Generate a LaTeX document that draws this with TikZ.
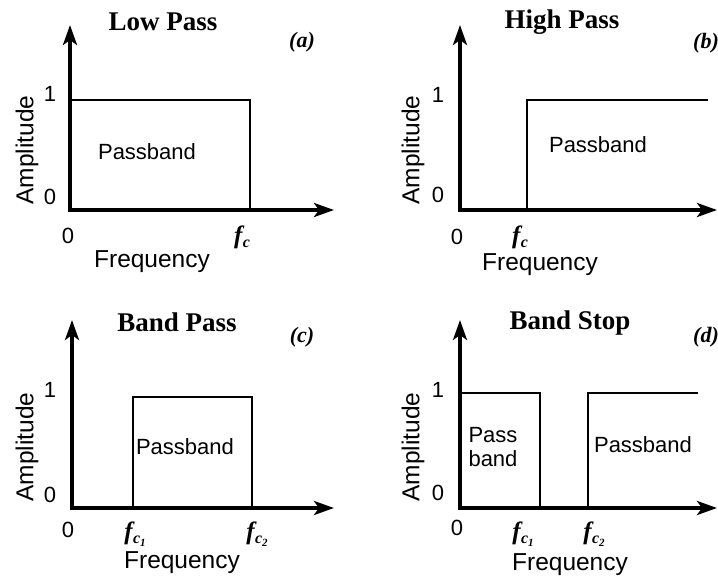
\documentclass[tikz,border=0pt]{standalone}
\usepackage{fontspec}
\setmainfont{Liberation Serif}
\newfontfamily\sanslab{Liberation Sans}
\usetikzlibrary{arrows.meta}
\newcommand{\fcsub}[1]{f\kern0.5pt\raisebox{-4pt}{\fontsize{16}{16}\selectfont c\raisebox{-3pt}{\fontsize{11}{11}\selectfont #1}}}
\newcommand{\fcone}{f\kern0.5pt\raisebox{-4pt}{\fontsize{16}{16}\selectfont c}}
\begin{document}
\begin{tikzpicture}[x=1pt,y=-1pt,
  axis/.style={line width=3.5pt,line join=miter,
    {Stealth[length=20pt,width=14pt,inset=5pt]}-{Stealth[length=20pt,width=14pt,inset=5pt]}},
  resp/.style={line width=1.6pt,line join=miter},
  lab/.style={font=\sanslab\fontsize{24.5}{24.5}\selectfont,inner sep=0pt},
  pb/.style={font=\sanslab\fontsize{22}{24}\selectfont,inner sep=0pt,align=left},
  num/.style={font=\sanslab\fontsize{22}{22}\selectfont,inner sep=0pt},
  fc/.style={font=\fontsize{25}{25}\selectfont\bfseries\itshape,inner sep=0pt},
  ttl/.style={font=\fontsize{27}{27}\selectfont\bfseries,inner sep=0pt},
  tag/.style={font=\fontsize{22}{22}\selectfont\bfseries\itshape,inner sep=0pt},
]
\useasboundingbox[fill=white] (0,0) rectangle (718,578);

% ---------- (a) Low Pass ----------
\coordinate (aO) at (70,210); \coordinate (aY) at (70,25); \coordinate (aX) at (334,210);
\draw[axis] (aY) -- (aO) -- (aX);
\coordinate (aT1) at (70,100); \coordinate (aT2) at (250,100); \coordinate (aB2) at (250,210);
\draw[resp] (aT1) -- (aT2) -- (aB2);
\node[ttl] (aTitle) at (163,22) {Low Pass};
\node[tag] (aTag) at (302,42) {(a)};
\node[num] (a1) at (50,94) {1};
\node[num] (a0) at (50,197) {0};
\node[num] (ax0) at (68,236) {0};
\node[fc] (afc) at (242,237) {\fcone};
\node[lab] (aFreq) at (152,262) {Frequency};
\node[lab,rotate=90] (aAmp) at (27,150) {Amplitude};
\node[pb] (aPb) at (147,152) {Passband};

% ---------- (b) High Pass ----------
\coordinate (bO) at (460,210); \coordinate (bY) at (460,25); \coordinate (bX) at (717,210);
\draw[axis] (bY) -- (bO) -- (bX);
\coordinate (bS0) at (527,210); \coordinate (bS1) at (527,100); \coordinate (bS2) at (708,100);
\draw[resp] (bS0) -- (bS1) -- (bS2);
\node[ttl] (bTitle) at (562,22) {High Pass};
\node[tag] (bTag) at (706,43) {(b)};
\node[num] (b1) at (438,95) {1};
\node[num] (b0) at (438,195) {0};
\node[num] (bx0) at (457,237) {0};
\node[fc] (bfc) at (520,237) {\fcone};
\node[lab] (bFreq) at (540,265) {Frequency};
\node[lab,rotate=90] (bAmp) at (413,150) {Amplitude};
\node[pb] (bPb) at (598,145) {Passband};

% ---------- (c) Band Pass ----------
\coordinate (cO) at (72,508); \coordinate (cY) at (72,320); \coordinate (cX) at (334,508);
\draw[axis] (cY) -- (cO) -- (cX);
\coordinate (cB1) at (133,508); \coordinate (cT1) at (133,397);
\coordinate (cT2) at (252,397); \coordinate (cB2) at (252,508);
\draw[resp] (cB1) -- (cT1) -- (cT2) -- (cB2);
\node[ttl] (cTitle) at (177,322) {Band Pass};
\node[tag] (cTag) at (302,337) {(c)};
\node[num] (c1) at (50,390) {1};
\node[num] (c0) at (50,495) {0};
\node[num] (cx0) at (68,530) {0};
\node[fc] (cfc1) at (135,534) {\fcsub{1}};
\node[fc] (cfc2) at (257,534) {\fcsub{2}};
\node[lab] (cFreq) at (182,563) {Frequency};
\node[lab,rotate=90] (cAmp) at (27,447) {Amplitude};
\node[pb] (cPb) at (185,447) {Passband};

% ---------- (d) Band Stop ----------
\coordinate (dO) at (460,508); \coordinate (dY) at (460,320); \coordinate (dX) at (717,508);
\draw[axis] (dY) -- (dO) -- (dX);
\coordinate (dS1a) at (552,508); \coordinate (dS1b) at (662,508);
\draw[line width=4.5pt] (dS1a) -- (dS1b);
\coordinate (dA1) at (460,393); \coordinate (dA2) at (540,393); \coordinate (dA3) at (540,508);
\draw[resp] (dA1) -- (dA2) -- (dA3);
\coordinate (dB0) at (588,508); \coordinate (dB1) at (588,393); \coordinate (dB2) at (698,393);
\draw[resp] (dB0) -- (dB1) -- (dB2);
\node[ttl] (dTitle) at (570,323) {Band Stop};
\node[tag] (dTag) at (706,337) {(d)};
\node[num] (d1) at (438,390) {1};
\node[num] (d0) at (438,493) {0};
\node[num] (dx0) at (457,528) {0};
\node[fc] (dfc1) at (523,534) {\fcsub{1}};
\node[fc] (dfc2) at (594,534) {\fcsub{2}};
\node[lab] (dFreq) at (570,565) {Frequency};
\node[lab,rotate=90] (dAmp) at (413,447) {Amplitude};
\node[pb] (dPb1) at (493,447) {Pass\\band};
\node[pb] (dPb2) at (643,445) {Passband};
\end{tikzpicture}
\end{document}
